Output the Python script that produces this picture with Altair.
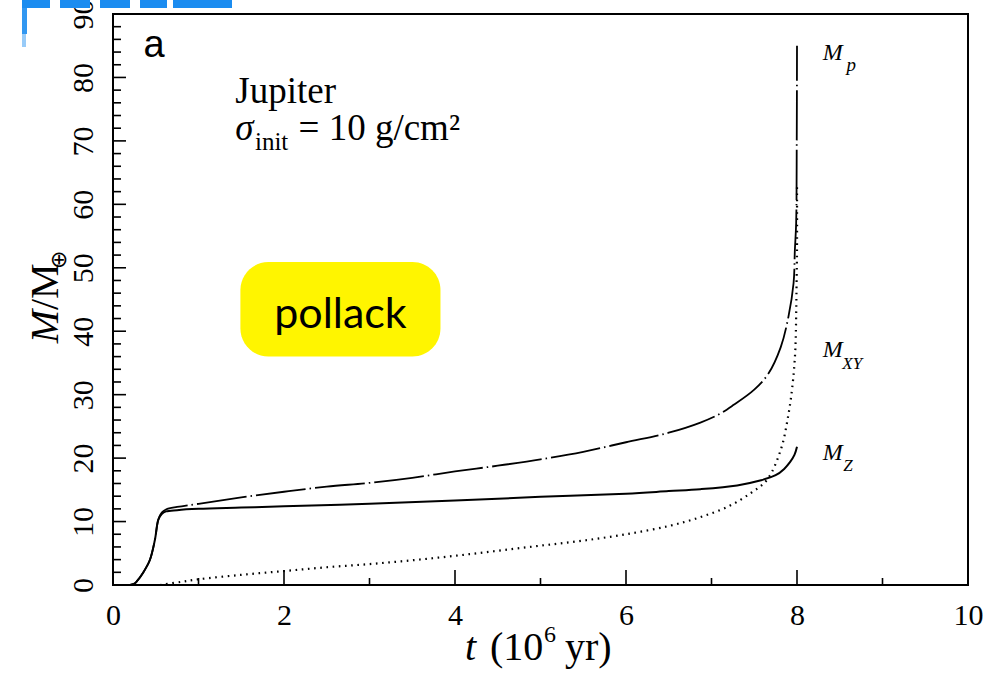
import altair as alt
import pandas as pd

# Growth tracks: time in Myr, mass in Earth masses
t_core = [0.20, 0.25, 0.28, 0.35, 0.43, 0.49, 0.53, 0.57, 0.62, 0.75, 1.0, 1.5, 2.0, 3.0, 4.0,
          5.0, 6.0, 6.5, 6.87, 7.3, 7.58, 7.75, 7.85, 7.92, 7.97, 8.0]
m_core = [0.0, 0.2, 0.6, 1.9, 3.9, 7.1, 10.3, 11.2, 11.6, 11.8, 12.0, 12.2, 12.4, 12.8, 13.3,
          13.9, 14.4, 14.8, 15.1, 15.7, 16.5, 17.3, 18.3, 19.4, 20.5, 21.8]

t_env = [0.55, 0.8, 1.0, 1.5, 2.0, 2.5, 3.0, 3.5, 4.0, 4.5, 5.0, 5.5, 6.0, 6.5, 6.87, 7.2,
         7.46, 7.65, 7.81, 7.895, 7.95, 7.98, 7.99, 7.995, 8.0, 8.0]
m_env = [0.0, 0.5, 0.9, 1.6, 2.2, 2.8, 3.3, 3.9, 4.6, 5.4, 6.2, 7.0, 8.0, 9.3, 10.7, 12.4,
         14.5, 16.6, 21.3, 26.5, 31.8, 37.0, 42.3, 47.6, 52.8, 63.0]

t_total = [0.20, 0.25, 0.28, 0.35, 0.43, 0.49, 0.53, 0.57, 0.62, 0.75, 1.0, 1.5, 2.0, 2.5, 3.0,
           3.5, 4.0, 4.5, 5.0, 5.5, 6.0, 6.5, 6.87, 7.1, 7.26, 7.5, 7.66, 7.81, 7.90, 7.96,
           7.975, 7.99, 7.997, 8.0]
m_total = [0.0, 0.2, 0.6, 1.9, 3.9, 7.1, 10.3, 11.4, 11.9, 12.3, 12.8, 13.8, 14.7, 15.5, 16.1,
           16.9, 17.9, 18.8, 19.8, 21.0, 22.5, 24.0, 25.6, 27.0, 28.4, 30.8, 33.2, 37.5, 42.3,
           47.6, 52.8, 57.0, 70.0, 85.0]

x_major = [0, 2, 4, 6, 8, 10]
x_minor = [1, 3, 5, 7, 9]
y_major = [0, 10, 20, 30, 40, 50, 60, 70, 80, 90]
y_minor = [v for v in range(2, 90, 2) if v % 10]

W, H = 855, 571
SERIF = "Liberation Serif"


def track(ts, ms):
    return pd.DataFrame({"t": ts, "m": ms, "i": list(range(len(ts)))})


xs = alt.Scale(domain=[0, 10], nice=False, zero=False)
ys = alt.Scale(domain=[0, 90], nice=False, zero=False)

x_axis = alt.Axis(values=x_major, ticks=False, tickSize=0, domain=False, grid=False,
                  labelFont=SERIF, labelFontSize=30, labelPadding=15, labelColor="black",
                  labelFlush=False, labelOverlap=False, title=None, format="d")
y_axis = alt.Axis(values=y_major, ticks=False, tickSize=0, domain=False, grid=False,
                  labelFont=SERIF, labelFontSize=30, labelAngle=270, labelAlign="center",
                  labelBaseline="alphabetic", labelPadding=21, labelColor="black",
                  labelFlush=False, labelOverlap=False, title=None, format="d")

X = alt.X("t:Q", scale=xs, axis=x_axis)
Y = alt.Y("m:Q", scale=ys, axis=y_axis)

core = alt.Chart(track(t_core, m_core)).mark_line(
    color="black", strokeWidth=2, interpolate="catmull-rom").encode(x=X, y=Y, order="i:Q")
env = alt.Chart(track(t_env, m_env)).mark_line(
    color="black", strokeWidth=2.2, strokeDash=[1.6, 4.6], strokeCap="butt",
    interpolate="catmull-rom").encode(x=X, y=Y, order="i:Q")
total = alt.Chart(track(t_total, m_total)).mark_line(
    color="black", strokeWidth=1.8, strokeDash=[50, 4, 1.5, 4],
    interpolate="catmull-rom").encode(x=X, y=Y, order="i:Q")

# inward-pointing ticks
xt_major = alt.Chart(pd.DataFrame({"t": x_major})).mark_rule(
    color="black", strokeWidth=1.6).encode(x=X, y=alt.value(H), y2=alt.value(H - 15))
xt_minor = alt.Chart(pd.DataFrame({"t": x_minor})).mark_rule(
    color="black", strokeWidth=1.6).encode(x=X, y=alt.value(H), y2=alt.value(H - 7))
yt_major = alt.Chart(pd.DataFrame({"m": y_major})).mark_rule(
    color="black", strokeWidth=1.6).encode(y=Y, x=alt.value(0), x2=alt.value(13))
yt_minor = alt.Chart(pd.DataFrame({"m": y_minor})).mark_rule(
    color="black", strokeWidth=1.6).encode(y=Y, x=alt.value(0), x2=alt.value(8))


def label(t, m, text, size, font=SERIF, style="normal", align="left",
          baseline="alphabetic", weight="normal"):
    return alt.Chart(pd.DataFrame({"t": [t], "m": [m], "s": [text]})).mark_text(
        font=font, fontSize=size, fontStyle=style, align=align, baseline=baseline,
        fontWeight=weight, color="black").encode(x=X, y=Y, text="s:N")


def pixel_text(x, y, text, size, style="normal", align="left", baseline="alphabetic",
               angle=0):
    return alt.Chart(pd.DataFrame({"s": [text]})).mark_text(
        font=SERIF, fontSize=size, fontStyle=style, align=align, baseline=baseline,
        angle=angle, color="black").encode(x=alt.value(x), y=alt.value(y), text="s:N")


notes = [
    label(0.48, 85.0, "a", 38, font="Liberation Sans", align="center", baseline="middle"),
    label(1.43, 76.0, "Jupiter", 37),
    label(1.43, 70.2, "σ", 37, style="italic"),
    label(1.66, 68.6, "init", 25),
    label(2.17, 70.2, "= 10 g/cm²", 37),
    label(8.30, 82.8, "M", 24, style="italic"),
    label(8.58, 81.0, "p", 19, style="italic"),
    label(8.30, 36.0, "M", 24, style="italic"),
    label(8.53, 34.0, "XY", 17, style="italic"),
    label(8.30, 19.7, "M", 24, style="italic"),
    label(8.54, 17.9, "Z", 17, style="italic"),
]

# highlighted tag
tag_box = alt.Chart(pd.DataFrame({"t": [1.49], "t2": [3.83], "m": [36.0], "m2": [50.9]})).mark_rect(
    color="#FFF500", cornerRadius=28).encode(x=X, x2="t2:Q", y=Y, y2="m2:Q")
tag_text = label(2.66, 40.5, "pollack", 43, font="Lato", align="center")

# axis titles
titles = [
    pixel_text(352, 646, "t", 40, style="italic"),
    pixel_text(377, 646, "(10", 40),
    pixel_text(431, 628, "6", 24),
    pixel_text(452, 646, "yr)", 40),
    pixel_text(-55, 296, "M", 40, style="italic", align="right", angle=270),
    pixel_text(-55, 296, "/M", 40, align="left", angle=270),
    pixel_text(-54, 246, "⊕", 22, align="center", baseline="middle", angle=270),
]

# blue banner fragment in the corner
blue = []
for x0, x1, y0, y1, op in [(-91, -63, -14, -6, 1), (-53, -23, -14, -6, 1), (-13, 17, -14, -6, 1),
                           (27, 54, -14, -6, 1), (60, 119, -14, -6, 1), (-91, -86, -14, 20, 0.9),
                           (-91, -87, 20, 33, 0.45)]:
    blue.append(alt.Chart(pd.DataFrame({"k": [0]})).mark_rect(color="#1B8CF0", opacity=op).encode(
        x=alt.value(x0), x2=alt.value(x1), y=alt.value(y0), y2=alt.value(y1)))

chart = alt.layer(
    tag_box, tag_text, env, core, total,
    xt_major, xt_minor, yt_major, yt_minor,
    *notes, *titles, *blue,
).properties(
    width=W, height=H,
    autosize=alt.AutoSizeParams(type="none"),
    padding={"left": 113, "top": 14, "right": 18, "bottom": 90},
    background="white",
).configure_view(stroke="black", strokeWidth=2)

chart.save("out.html", embed_options={"renderer": "svg", "actions": False})
